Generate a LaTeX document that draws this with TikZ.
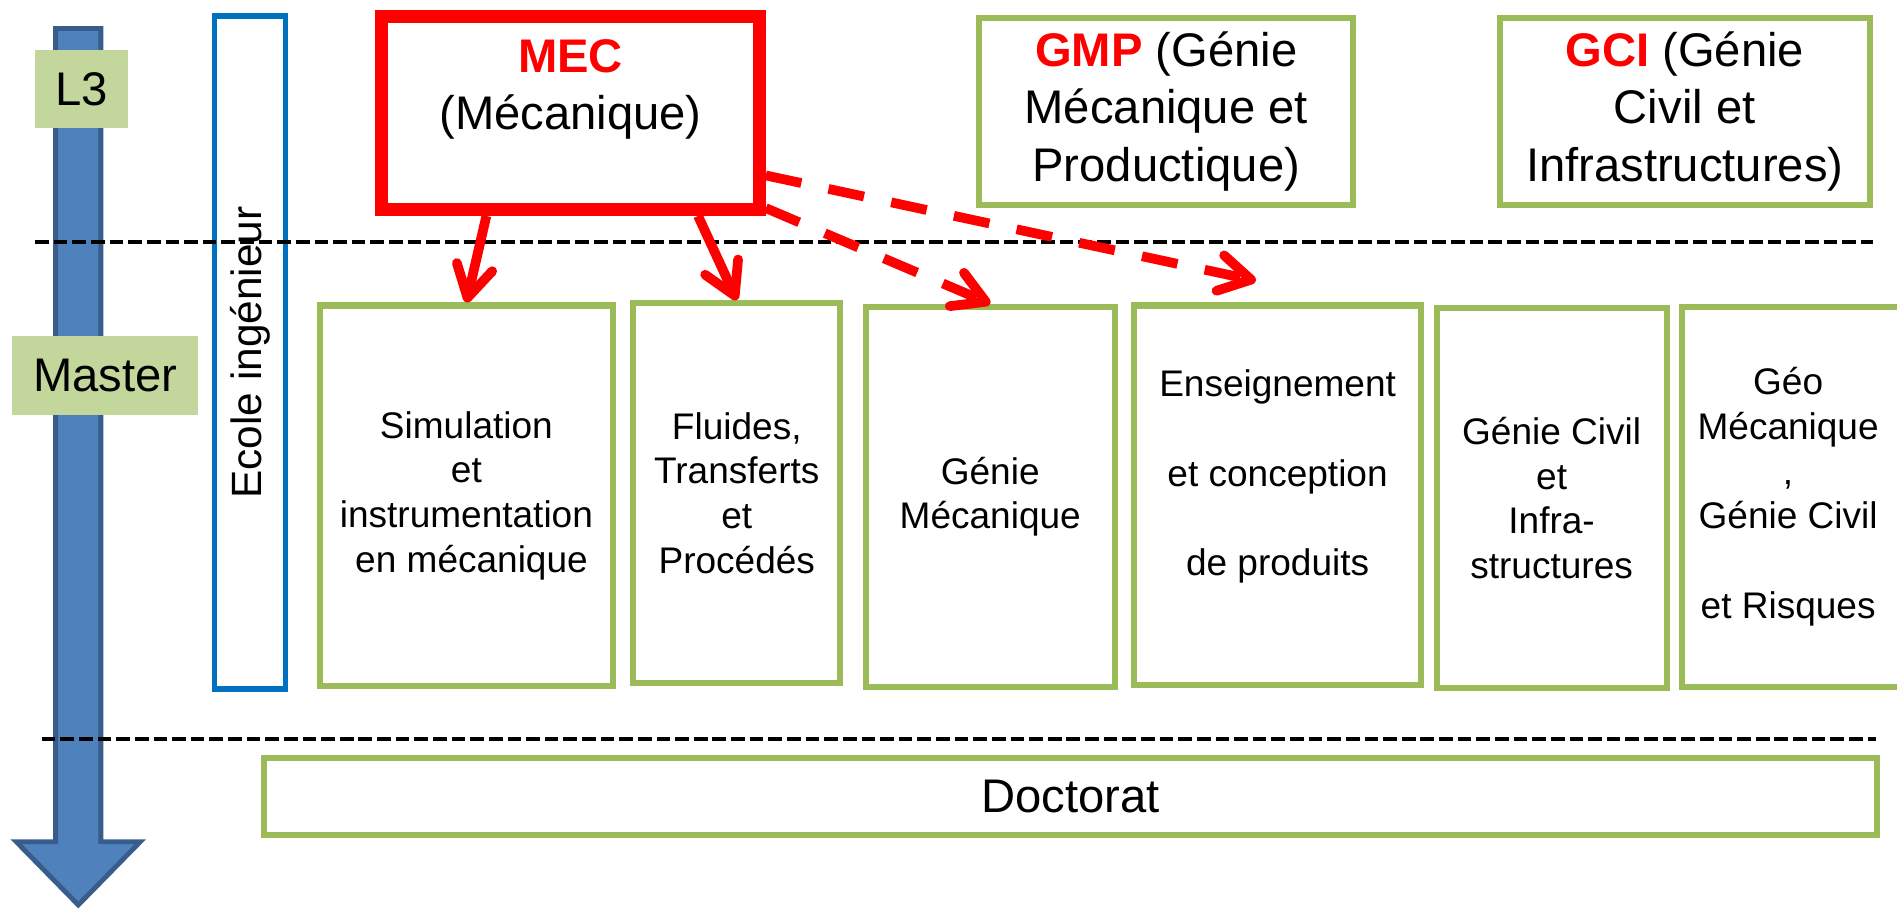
\documentclass[tikz,border=0pt]{standalone}
\usepackage{fontspec}
\setmainfont{Liberation Sans}
\usetikzlibrary{arrows.meta}
\definecolor{grn}{HTML}{9BBB59}
\definecolor{lgrn}{HTML}{C3D69B}
\definecolor{ecoleblue}{HTML}{0070C0}
\definecolor{arrfill}{HTML}{4F81BD}
\definecolor{arrline}{HTML}{385D8A}
\newcommand\fbig{\fontsize{39pt}{47.4pt}\selectfont}
\newcommand\fsmall{\fontsize{30.6pt}{37pt}\selectfont}
\newcommand\fecole{\fontsize{35pt}{42pt}\selectfont}
\tikzset{
  gbox/.style={draw=grn, line width=5pt, inner sep=0pt, align=center, font=\fsmall},
  topbox/.style={draw=grn, line width=5pt, inner sep=0pt, align=center, font=\fbig},
  lvl/.style={fill=lgrn, inner sep=0pt, font=\fbig},
  blackdash/.style={line width=3.3pt, dash pattern=on 11.3pt off 4.1pt},
  redarrow/.style={draw=red, line width=8pt, -{Straight Barb[length=26pt,width=30pt,round]}},
  reddash/.style={redarrow, dash pattern=on 30pt off 23pt}
}
\begin{document}
\begin{tikzpicture}[x=1pt,y=-1pt]
\useasboundingbox (0,0) rectangle (1568,753);
% big timeline arrow
\draw[fill=arrfill, draw=arrline, line width=4pt, line join=miter]
  (46,23.5) -- (83.4,23.5) -- (83.4,695.7) -- (116,695.7) -- (64.7,748)
  -- (13.4,695.7) -- (46,695.7) -- cycle;
% level labels
\node[lvl, minimum width=77pt, minimum height=65pt] (l3) at (67.5,73.5) {L3};
\node[lvl, minimum width=154pt, minimum height=65pt] (master) at (87,310.5) {Master};
% Ecole ingenieur
\node[draw=ecoleblue, line width=4.5pt, inner sep=0pt, rotate=90,
      minimum width=556.2pt, minimum height=58.8pt, font=\fecole] (ecole) at (206.65,291.35) {Ecole ingénieur};
% top boxes
\node[draw=red, line width=10.7pt, inner sep=0pt, align=center, font=\fbig,
      minimum width=312.3pt, minimum height=159.5pt] (mec) at (471.5,93.4)
      {{\color{red}\bfseries MEC}\\(Mécanique)\\\mbox{}};
\node[topbox, minimum width=309pt, minimum height=155pt] (gmp) at (964,92)
      {{\color{red}\bfseries GMP} (Génie\\Mécanique et\\Productique)};
\node[topbox, minimum width=306pt, minimum height=155pt] (gci) at (1392.5,92)
      {{\color{red}\bfseries GCI} (Génie\\Civil et\\Infrastructures)};
% master boxes
\node[gbox, minimum width=242pt, minimum height=314.5pt] (sim) at (385.5,409.75)
      {Simulation\\et\\instrumentation\\~en mécanique};
\node[gbox, minimum width=171pt, minimum height=314pt] (flu) at (609,407.5)
      {Fluides,\\Transferts\\et\\Procédés};
\node[gbox, minimum width=206pt, minimum height=314pt] (gm) at (818.5,410.5)
      {Génie\\Mécanique};
\node[gbox, minimum width=237pt, minimum height=314pt] (ens) at (1056,409.5)
      {Enseignement\\\mbox{}\\et conception\\\mbox{}\\de produits\\\mbox{}};
\node[gbox, minimum width=190pt, minimum height=314.5pt] (gc) at (1282.5,411.75)
      {Génie Civil\\et\\Infra-\\structures};
\node[gbox, minimum width=187pt, minimum height=314pt] (geo) at (1484,410.5) {};
\node[align=center, font=\fsmall, inner sep=0pt] (geotext) at (1478,410.5)
      {Géo\\Mécanique\\,\\Génie Civil\\\mbox{}\\et Risques};
% doctorat
\node[topbox, minimum width=1333.3pt, minimum height=64pt] (doc) at (884.85,658.5) {Doctorat};
% black dashed separators
\coordinate (s1a) at (29,200);
\coordinate (s1b) at (1548,200);
\coordinate (s2a) at (34.5,611);
\coordinate (s2b) at (1551,611);
\draw[blackdash] (s1a) -- (s1b);
\draw[blackdash] (s2a) -- (s2b);
% red arrows
\draw[redarrow] ([xshift=-69.5pt]mec.south) -- (sim.north);
\draw[redarrow] ([xshift=105.5pt]mec.south) -- (flu.north);
\coordinate (t1) at (1038,232);
\draw[reddash] ([yshift=-51.6pt]mec.east) -- (t1);
\draw[reddash] ([yshift=-78.6pt]mec.east) -- (gm.north);
\end{tikzpicture}
\end{document}
